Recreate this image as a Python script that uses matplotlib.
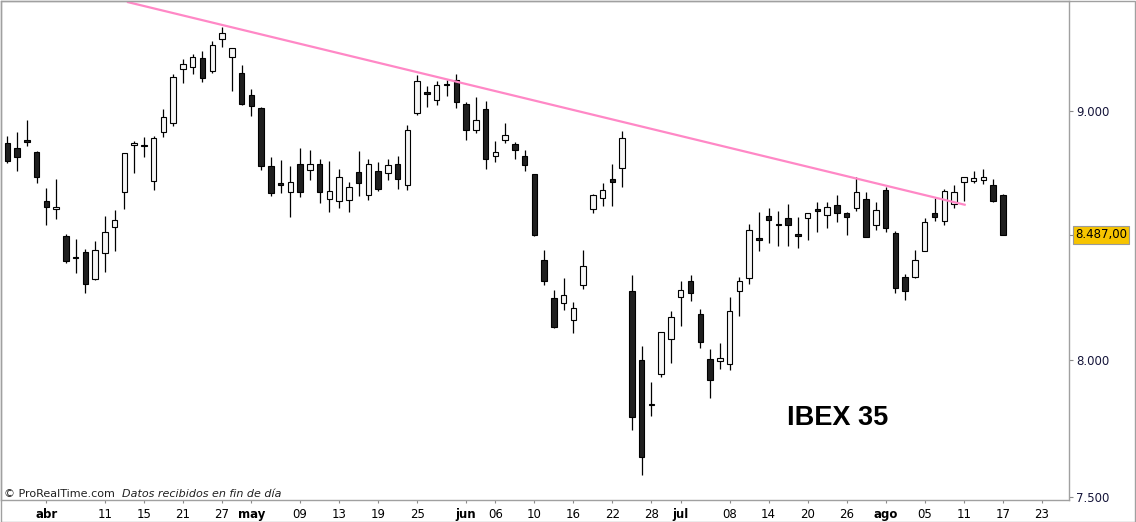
import numpy as np
import pandas as pd
import matplotlib
matplotlib.use("Agg")
import matplotlib.pyplot as plt
import matplotlib.transforms as mtransforms
from matplotlib.patches import Rectangle
from matplotlib.ticker import NullLocator

# ---------------- data (IBEX 35, daily) ----------------
opens = [8862, 8842, 8875, 8825, 8623, 8590, 8482, 8401, 8418, 8311,
         8414, 8518, 8660, 8854, 8855, 8705, 8911, 8947, 9178, 9186,
         9225, 9172, 9309, 9230, 9160, 9066, 9010, 8767, 8697, 8660,
         8775, 8750, 8775, 8631, 8623, 8627, 8742, 8647, 8746, 8738,
         8775, 8688, 8989, 9078, 9044, 9116, 9131, 9027, 8917, 9006,
         8808, 8875, 8858, 8808, 8734, 8386, 8237, 8217, 8152, 8288,
         8590, 8635, 8713, 8758, 8264, 7999, 7833, 7946, 8079, 8241,
         8303, 8175, 8004, 7996, 7984, 8264, 8315, 8474, 8562, 8531,
         8554, 8490, 8554, 8590, 8566, 8607, 8574, 8594, 8631, 8526,
         8668, 8494, 8319, 8321, 8422, 8574, 8542, 8611, 8701, 8705,
         8709, 8688, 8647]
highs = [8893, 8910, 8961, 8829, 8676, 8714, 8490, 8471, 8430, 8463,
         8563, 8588, 8822, 8871, 8888, 8893, 9007, 9157, 9222, 9243,
         9256, 9300, 9362, 9270, 9195, 9093, 9014, 8805, 8793, 8768,
         8843, 8834, 8797, 8789, 8755, 8702, 8830, 8797, 8785, 8796,
         8809, 8938, 9153, 9104, 9127, 9131, 9157, 9036, 9058, 9041,
         8872, 8947, 8867, 8833, 8735, 8426, 8268, 8316, 8221, 8427,
         8653, 8698, 8776, 8914, 8328, 8052, 7916, 8106, 8186, 8303,
         8327, 8194, 8041, 8064, 8241, 8319, 8530, 8578, 8596, 8582,
         8612, 8558, 8575, 8619, 8619, 8649, 8578, 8723, 8660, 8619,
         8681, 8502, 8331, 8426, 8554, 8635, 8672, 8688, 8722, 8747,
         8755, 8714, 8652]
lows = [8782, 8749, 8852, 8697, 8528, 8550, 8376, 8337, 8256, 8309,
        8341, 8424, 8593, 8740, 8807, 8670, 8890, 8936, 9120, 9159,
        9124, 9163, 9276, 9085, 9026, 8979, 8753, 8646, 8658, 8560,
        8642, 8711, 8615, 8581, 8595, 8578, 8646, 8630, 8666, 8711,
        8674, 8670, 8980, 9017, 9024, 9064, 9013, 8878, 8907, 8757,
        8786, 8865, 8798, 8749, 8484, 8290, 8122, 8193, 8104, 8274,
        8577, 8605, 8605, 8683, 7741, 7578, 7792, 7935, 7990, 8131,
        8228, 8047, 7857, 7965, 7961, 8167, 8291, 8424, 8454, 8444,
        8444, 8436, 8468, 8500, 8516, 8538, 8486, 8582, 8477, 8506,
        8498, 8256, 8232, 8317, 8421, 8544, 8528, 8597, 8625, 8697,
        8692, 8622, 8485]
closes = [8790, 8807, 8869, 8721, 8601, 8599, 8384, 8397, 8291, 8426,
          8498, 8546, 8821, 8862, 8850, 8883, 8972, 9144, 9199, 9232,
          9139, 9282, 9335, 9269, 9027, 9021, 8767, 8656, 8688, 8701,
          8660, 8775, 8662, 8664, 8723, 8681, 8697, 8775, 8674, 8771,
          8713, 8917, 9126, 9073, 9109, 9112, 9036, 8917, 8959, 8798,
          8825, 8896, 8833, 8771, 8488, 8303, 8126, 8249, 8198, 8362,
          8648, 8668, 8701, 8883, 7787, 7643, 7836, 8105, 8163, 8268,
          8256, 8068, 7924, 8007, 8186, 8303, 8506, 8468, 8548, 8526,
          8526, 8484, 8574, 8582, 8599, 8574, 8558, 8660, 8478, 8586,
          8514, 8276, 8264, 8386, 8538, 8560, 8664, 8660, 8721, 8717,
          8721, 8623, 8487]

market_holidays = ["2016-03-25", "2016-03-28"]
tick_dates = ["2016-04-01", "2016-04-11", "2016-04-15", "2016-04-21", "2016-04-27",
              "2016-05-02", "2016-05-09", "2016-05-13", "2016-05-19", "2016-05-25",
              "2016-06-01", "2016-06-06", "2016-06-10", "2016-06-16", "2016-06-22",
              "2016-06-28", "2016-07-01", "2016-07-08", "2016-07-14", "2016-07-20",
              "2016-07-26", "2016-08-01", "2016-08-05", "2016-08-11", "2016-08-17",
              "2016-08-23"]
tick_labels = ["abr", "11", "15", "21", "27", "may", "09", "13", "19", "25",
               "jun", "06", "10", "16", "22", "28", "jul", "08", "14", "20",
               "26", "ago", "05", "11", "17", "23"]

# trend line (drawn by hand on the original chart)
trend_x = [12.26, 98.2]
trend_y = [9475, 8608]

last_price_text = "8.487,00"
y_ticks = [7500, 8000, 9000]
y_tick_labels = ["7.500", "8.000", "9.000"]

# ---------------- figure ----------------
o = np.array(opens, float)
h = np.array(highs, float)
l = np.array(lows, float)
c = np.array(closes, float)

days = pd.bdate_range("2016-03-24", "2016-08-31").difference(pd.to_datetime(market_holidays))
x = np.arange(len(c))
tick_pos = [days.get_loc(pd.Timestamp(d)) for d in tick_dates]

W, H = 1136, 522
fig = plt.figure(figsize=(W / 100, H / 100), dpi=100)
fig.patch.set_facecolor("white")
ax = fig.add_axes([1 / W, 22 / H, 1068 / W, 499 / H])
ax.set_yscale("log")
ax.set_facecolor("white")

up = c >= o
ax.vlines(x, l, h, color="black", lw=0.9, zorder=2)
ax.bar(x[up], (c - o)[up], bottom=o[up], width=0.56, color="#f6f6f6",
       edgecolor="black", lw=0.8, zorder=3)
ax.bar(x[~up], (o - c)[~up], bottom=c[~up], width=0.56, color="#1f1f1f",
       edgecolor="black", lw=0.8, zorder=3)

ax.plot(trend_x, trend_y, color="#ff88c6", lw=1.6, zorder=4, solid_capstyle="butt")

ax.set_xlim(-0.645, 108.78)
ax.set_ylim(7488, 9479)

# y axis on the right
ax.yaxis.tick_right()
ax.yaxis.set_minor_locator(NullLocator())
ax.set_yticks(y_ticks + [c[-1]])
ax.set_yticklabels(y_tick_labels + [""])
ax.tick_params(axis="y", which="major", direction="out", length=3, width=0.8,
               color="#8a8a8a", labelsize=8.5, labelcolor="#15153a", pad=2)

# x axis
ax.xaxis.set_minor_locator(NullLocator())
ax.set_xticks(tick_pos)
ax.set_xticklabels(tick_labels)
ax.tick_params(axis="x", which="major", direction="out", length=2.5, width=0.8,
               color="#8a8a8a", labelsize=8.5, labelcolor="black", pad=3)
for lbl, txt in zip(ax.get_xticklabels(), tick_labels):
    if txt.isalpha():
        lbl.set_fontweight("bold")

for s in ax.spines.values():
    s.set_color("#a0a0a0")
    s.set_linewidth(1.0)

# last price box
trans = mtransforms.blended_transform_factory(ax.transAxes, ax.transData)
ax.text(1.0055, c[-1], last_price_text, transform=trans, ha="left", va="center",
        fontsize=8.5, color="black", clip_on=False,
        bbox=dict(boxstyle="square,pad=0.18", fc="#f7c400", ec="#9a9a9a", lw=0.8))

# title
ax.text(0.7837, 0.1513, "IBEX 35", transform=ax.transAxes, ha="center", va="baseline",
        fontsize=19.5, fontweight="bold", family="Liberation Sans", color="black")

# copyright
fig.text(4 / W, (H - 494) / H, "© ProRealTime.com", fontsize=8, va="center",
         ha="left", color="#202020")
fig.text(122.5 / W, (H - 494) / H, "Datos recibidos en fin de día", fontsize=8,
         va="center", ha="left", color="#202020", style="italic")

# outer frame
fig.patches.append(Rectangle((0.5 / W, 0.5 / H), 1 - 1.5 / W, 1 - 1.5 / H,
                             transform=fig.transFigure, fill=False,
                             edgecolor="#a0a0a0", lw=1.0))

fig.savefig("out.png", dpi=100, facecolor="white")
